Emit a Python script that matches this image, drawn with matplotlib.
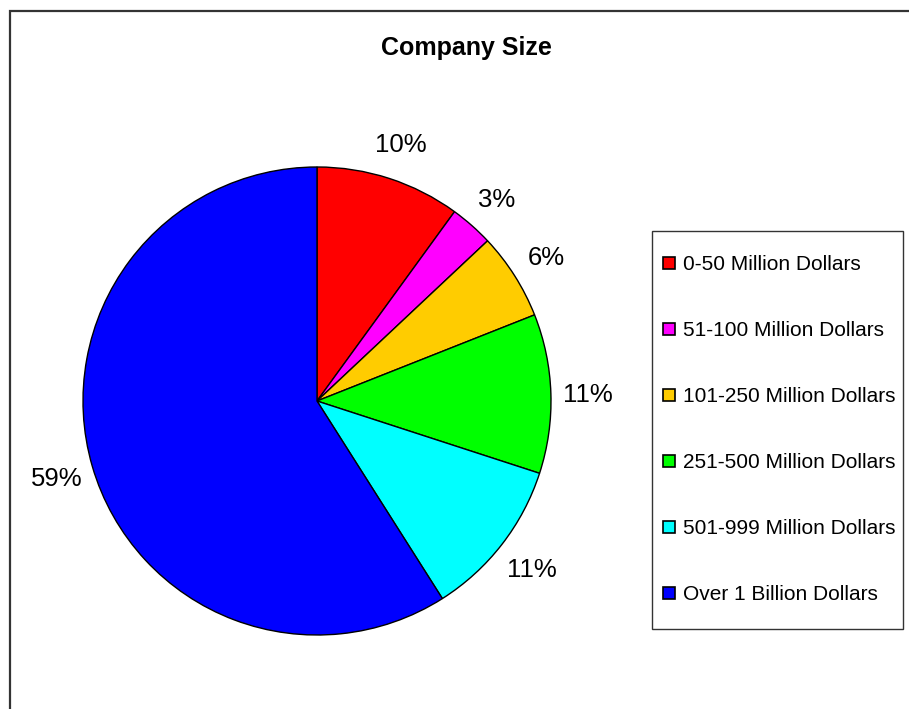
import matplotlib.pyplot as plt
from matplotlib.lines import Line2D
from matplotlib.patches import Rectangle

categories = ['0-50 Million Dollars', '51-100 Million Dollars', '101-250 Million Dollars',
              '251-500 Million Dollars', '501-999 Million Dollars', 'Over 1 Billion Dollars']
shares = [10, 3, 6, 11, 11, 59]
colors = ['#FF0000', '#FF00FF', '#FFCC00', '#00FF00', '#00FFFF', '#0000FF']

plt.rcParams['font.family'] = ['Liberation Sans', 'DejaVu Sans']

fig = plt.figure(figsize=(9.09, 7.09), dpi=100)
W, H = 909, 709

# chart area border (runs off the right and bottom edges)
fig.patches.append(Rectangle((10 / W, -0.05), 1.0, 1 - 11 / H + 0.05,
                             transform=fig.transFigure, fill=False,
                             edgecolor='#333333', linewidth=1.6))

# pie centred at (317, 401) px with radius 234 px
cx, cy, r = 317, 401, 234
ax = fig.add_axes([(cx - r) / W, (H - cy - r) / H, 2 * r / W, 2 * r / H])
wedges, texts = ax.pie(shares, colors=colors, startangle=90, counterclock=False,
                       labels=[f'{s}%' for s in shares], labeldistance=1.16,
                       wedgeprops=dict(edgecolor='black', linewidth=1.0),
                       textprops=dict(fontsize=18.5))
for t in texts:
    t.set_ha('center')
    t.set_va('center_baseline')
ax.set_xlim(-1, 1)
ax.set_ylim(-1, 1)
ax.set_aspect('equal')

fig.text(466 / W, 1 - 48 / H, 'Company Size', ha='center', va='center',
         fontsize=18, fontweight='bold')

# legend box drawn separately so the padding can be set per side
fig.patches.append(Rectangle((652 / W, 1 - 629 / H), (903 - 652) / W, (629 - 231) / H,
                             transform=fig.transFigure, fill=False,
                             edgecolor='#333333', linewidth=1.0))

handles = [Line2D([], [], marker='s', linestyle='none', markersize=8.5,
                  markerfacecolor=c, markeredgecolor='black', markeredgewidth=1.2)
           for c in colors]
leg = fig.legend(handles, categories, loc='upper left',
                 bbox_to_anchor=(663 / W, 1 - 255 / H), fontsize=15,
                 frameon=False, labelspacing=2.26, handlelength=0.6,
                 handletextpad=0.35, borderpad=0, borderaxespad=0)

fig.savefig('out.png', dpi=100)
